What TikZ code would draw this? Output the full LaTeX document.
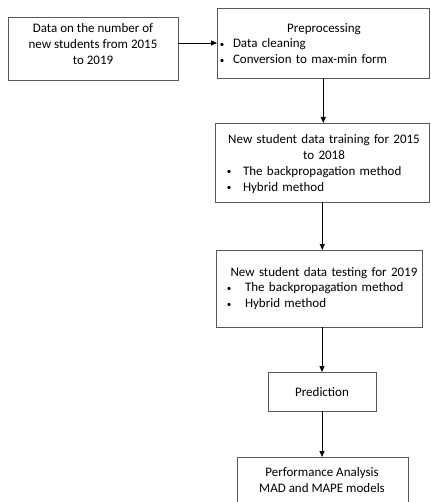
\documentclass[tikz,border=0pt]{standalone}
\usepackage{fontspec}
\setmainfont{Carlito}
\usetikzlibrary{arrows.meta}
\newcommand{\smbul}{\raisebox{0.6pt}{\fontsize{9}{9}\selectfont\textbullet}}
\newcommand{\bul}[3]{\par\hspace*{#1}\makebox[0pt]{\smbul}\hspace*{#2}#3}
\begin{document}
\begin{tikzpicture}[x=1pt,y=1pt,
 box/.style={draw=black!65, line width=0.8pt, inner sep=0pt, outer sep=0pt},
 txt/.style={inner sep=0pt, font=\fontsize{13}{15.7}\selectfont},
 arr/.style={-{Triangle[length=6pt,width=5pt]}, line width=0.9pt, black}]
\useasboundingbox (0,0) rectangle (430,-502);
\node[box, minimum width=170pt, minimum height=63pt] (b1) at (93,-48.5) {};
\node[box, minimum width=212.5pt, minimum height=70pt] (b2) at (323.25,-43) {};
\node[box, minimum width=214.5pt, minimum height=79pt] (b3) at (322.25,-162.5) {};
\node[box, minimum width=206pt, minimum height=77pt] (b4) at (319,-288.5) {};
\node[box, minimum width=108pt, minimum height=39pt] (b5) at (322,-391.5) {};
\node[box, minimum width=171pt, minimum height=63pt] (b6) at (322.5,-488.5) {};

\node[txt, align=center] (t1) at (93,-44) {Data on the number of\\new students from 2015\\to 2019};
\node[txt, text width=204pt, align=left] (t2) at (324,-43.5) {{\centering Preprocessing\par}\bul{0pt}{11pt}{Data cleaning}\bul{0pt}{11pt}{Conversion to max-min form}};
\node[txt, text width=204pt, align=left] (t3) at (324,-164) {{\centering New student data training for 2015\\to 2018\par}\bul{7pt}{14pt}{The backpropagation method}\bul{7pt}{14pt}{Hybrid method}};
\node[txt, text width=204pt, align=left] (t4) at (324,-288.5) {{\centering New student data testing for 2019\par}\bul{7pt}{16pt}{The backpropagation method}\bul{7pt}{16pt}{Hybrid method}};
\node[txt] (t5) at (322,-392) {Prediction};
\node[txt, align=center] (t6) at (322,-480) {Performance Analysis\\MAD and MAPE models};

\coordinate (r1) at (0,-43);
\draw[arr] (b1.east |- r1) -- (b2.west |- r1);
\draw[arr] (b2.south) -- (b2.south |- b3.north);
\draw[arr] (b3.south) -- (b3.south |- b4.north);
\draw[arr] (b5.north |- b4.south) -- (b5.north);
\draw[arr] (b5.south) -- (b5.south |- b6.north);
\end{tikzpicture}
\end{document}
